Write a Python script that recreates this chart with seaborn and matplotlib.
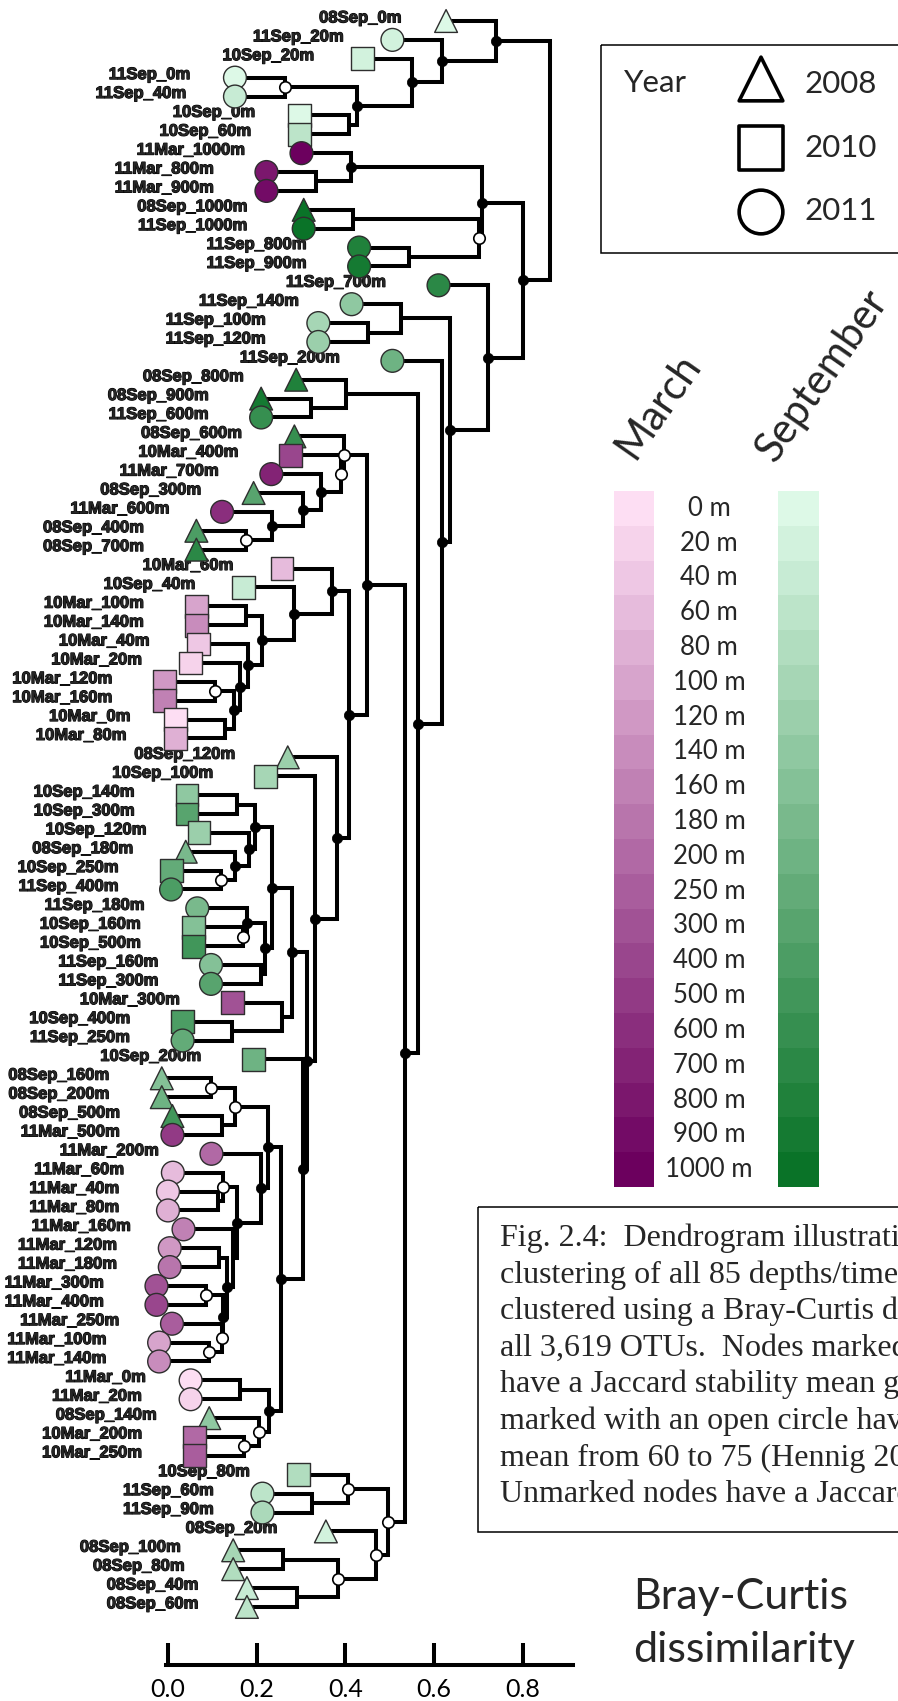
import numpy as np
import pandas as pd
import seaborn as sns
import matplotlib.pyplot as plt
import matplotlib.patheffects as pe
from matplotlib.colors import LinearSegmentedColormap
from matplotlib.patches import Rectangle

# ---- data ----
leaf_labels = [
    "08Sep_0m", "11Sep_20m", "10Sep_20m", "11Sep_0m", "11Sep_40m", "10Sep_0m", "10Sep_60m", "11Mar_1000m", "11Mar_800m", "11Mar_900m",
    "08Sep_1000m", "11Sep_1000m", "11Sep_800m", "11Sep_900m", "11Sep_700m", "11Sep_140m", "11Sep_100m", "11Sep_120m", "11Sep_200m", "08Sep_800m",
    "08Sep_900m", "11Sep_600m", "08Sep_600m", "10Mar_400m", "11Mar_700m", "08Sep_300m", "11Mar_600m", "08Sep_400m", "08Sep_700m", "10Mar_60m",
    "10Sep_40m", "10Mar_100m", "10Mar_140m", "10Mar_40m", "10Mar_20m", "10Mar_120m", "10Mar_160m", "10Mar_0m", "10Mar_80m", "08Sep_120m",
    "10Sep_100m", "10Sep_140m", "10Sep_300m", "10Sep_120m", "08Sep_180m", "10Sep_250m", "11Sep_400m", "11Sep_180m", "10Sep_160m", "10Sep_500m",
    "11Sep_160m", "11Sep_300m", "10Mar_300m", "10Sep_400m", "11Sep_250m", "10Sep_200m", "08Sep_160m", "08Sep_200m", "08Sep_500m", "11Mar_500m",
    "11Mar_200m", "11Mar_60m", "11Mar_40m", "11Mar_80m", "11Mar_160m", "11Mar_120m", "11Mar_180m", "11Mar_300m", "11Mar_400m", "11Mar_250m",
    "11Mar_100m", "11Mar_140m", "11Mar_0m", "11Mar_20m", "08Sep_140m", "10Mar_200m", "10Mar_250m", "10Sep_80m", "11Sep_60m", "11Sep_90m",
    "08Sep_20m", "08Sep_100m", "08Sep_80m", "08Sep_40m", "08Sep_60m",
]

# merges: ids < 85 are leaves, 85 + row is the cluster made in that row
merge_pairs = [
    (3, 4), (5, 6), (85, 86), (2, 87), (1, 88), (0, 89),
    (8, 9), (7, 91), (10, 11), (12, 13), (93, 94), (92, 95),
    (16, 17), (15, 97), (20, 21), (19, 99), (27, 28), (26, 101),
    (25, 102), (24, 103), (23, 104), (22, 105), (31, 32), (35, 36),
    (37, 38), (108, 109), (34, 110), (33, 111), (107, 112), (30, 113),
    (29, 114), (41, 42), (45, 46), (44, 117), (43, 118), (116, 119),
    (48, 49), (47, 121), (50, 51), (122, 123), (120, 124), (53, 54),
    (52, 126), (125, 127), (56, 57), (58, 59), (129, 130), (62, 63),
    (61, 132), (65, 66), (67, 68), (70, 71), (69, 136), (135, 137),
    (134, 138), (64, 139), (133, 140), (60, 141), (131, 142), (72, 73),
    (75, 76), (74, 145), (144, 146), (143, 147), (55, 148), (128, 149),
    (40, 150), (39, 151), (115, 152), (106, 153), (78, 79), (77, 155),
    (81, 82), (83, 84), (157, 158), (80, 159), (156, 160), (154, 161),
    (100, 162), (18, 163), (98, 164), (14, 165), (96, 166), (90, 167),
]
merge_height = [
    0.263, 0.409, 0.426, 0.551, 0.618, 0.739,
    0.334, 0.413, 0.418, 0.543, 0.701, 0.708,
    0.451, 0.526, 0.322, 0.401, 0.176, 0.234,
    0.305, 0.345, 0.389, 0.397, 0.176, 0.105,
    0.128, 0.148, 0.163, 0.180, 0.213, 0.283,
    0.369, 0.155, 0.119, 0.152, 0.182, 0.197,
    0.169, 0.178, 0.209, 0.218, 0.234, 0.145,
    0.257, 0.280, 0.098, 0.122, 0.151, 0.112,
    0.123, 0.116, 0.086, 0.092, 0.121, 0.125,
    0.132, 0.147, 0.155, 0.210, 0.226, 0.163,
    0.172, 0.205, 0.227, 0.255, 0.305, 0.313,
    0.332, 0.382, 0.409, 0.449, 0.325, 0.406,
    0.259, 0.290, 0.383, 0.468, 0.495, 0.534,
    0.564, 0.618, 0.635, 0.722, 0.801, 0.861,
]
# d = stable (black dot), o = open circle, - = unmarked
merge_mark = "".join([
    "o-dddd", "-d--od", "----od", "ddoo-o", "-ddddd", "d-oddd", "od-dd-",
    "-do-o-", "o-oood", "d-ddd-", "oodddd", "dddd-o", "--oood", "ddddd-",
])

depth_levels = [0, 20, 40, 60, 80, 100, 120, 140, 160, 180, 200,
                250, 300, 400, 500, 600, 700, 800, 900, 1000]
year_markers = {2008: "^", 2010: "s", 2011: "o"}
month_colours = {"Mar": ["#fddef3", "#6c005e"], "Sep": ["#ddf9e7", "#0a7328"]}
axis_ticks = [0.0, 0.2, 0.4, 0.6, 0.8]
# caption as it shows in the reference (runs off the right edge)
caption_lines = [
    "Fig. 2.4:  Dendrogram illustrati",
    "clustering of all 85 depths/time",
    "clustered using a Bray-Curtis d",
    "all 3,619 OTUs.  Nodes marked",
    "have a Jaccard stability mean g",
    "marked with an open circle hav",
    "mean from 60 to 75 (Hennig 20",
    "Unmarked nodes have a Jaccard",
]

# ---- layout (pixels of the 898 x 1701 canvas) ----
W, H, DPI = 898, 1701, 100
X0_PX, UNIT_PX = 168.0, 443.5      # where 0.0 sits, pixels per unit
Y0_PX, STEP_PX = 21.0, 18.88       # first leaf, leaf spacing
AXIS_PX = 1665.0
HANG = 0.112
LW = 2.9

sns.set_theme(style="white")
plt.rcParams["font.family"] = ["Lato", "DejaVu Sans"]

fig = plt.figure(figsize=(W / DPI, H / DPI), dpi=DPI)
ax = fig.add_axes([0, 1 - AXIS_PX / H, 1, AXIS_PX / H])
ax.set_xlim(-X0_PX / UNIT_PX, (W - X0_PX) / UNIT_PX)
ax.set_ylim((AXIS_PX - Y0_PX) / STEP_PX, -Y0_PX / STEP_PX)

n = len(leaf_labels)
node_x = np.zeros(n + len(merge_pairs))
node_y = np.zeros(n + len(merge_pairs))
node_y[:n] = np.arange(n)

for i, (a, b) in enumerate(merge_pairs):
    h = merge_height[i]
    for c in (a, b):
        if c < n:
            node_x[c] = h - HANG
    node_x[n + i] = h
    node_y[n + i] = (node_y[a] + node_y[b]) / 2
    ax.plot([node_x[a], h, h, node_x[b]], [node_y[a], node_y[a], node_y[b], node_y[b]],
            color="black", lw=LW, solid_joinstyle="miter", solid_capstyle="butt", zorder=2)

# leaf colours from month + depth
cmaps = {m: LinearSegmentedColormap.from_list(m, c) for m, c in month_colours.items()}
years, colours = [], []
for lab in leaf_labels:
    yr, rest = lab[:2], lab[2:]
    month, depth = rest.split("_")
    depth = int(depth[:-1])
    t = np.interp(depth, depth_levels, np.arange(len(depth_levels))) / (len(depth_levels) - 1)
    years.append(2000 + int(yr))
    colours.append(cmaps[month](t))

leaf_df = pd.DataFrame({"x": node_x[:n], "y": node_y[:n], "label": leaf_labels, "year": years})
sns.scatterplot(data=leaf_df, x="x", y="y", hue="label", palette=dict(zip(leaf_labels, colours)),
                style="year", markers=year_markers, s=270, edgecolor="#2e2e2e", linewidth=1.0,
                legend=False, ax=ax, zorder=4)

# labels sit further left the longer they are
heavy = [pe.withStroke(linewidth=0.8, foreground="black")]
for x, y, lab in zip(leaf_df.x, leaf_df.y, leaf_labels):
    off = (13 + 4 * len(lab)) / UNIT_PX
    ax.text(x - off, y - 0.16, lab, ha="right", va="center", fontsize=12, fontweight="bold",
            family=["Liberation Sans"], zorder=3, path_effects=heavy)

node_df = pd.DataFrame({"x": node_x[n:], "y": node_y[n:], "mark": list(merge_mark)})
sns.scatterplot(data=node_df[node_df.mark == "d"], x="x", y="y", color="black", s=55,
                edgecolor="black", linewidth=0.5, legend=False, ax=ax, zorder=5)
sns.scatterplot(data=node_df[node_df.mark == "o"], x="x", y="y", color="white", s=68,
                edgecolor="black", linewidth=1.2, legend=False, ax=ax, zorder=5)

# axis
ax.set_xticks(axis_ticks)
ax.set_xticklabels([f"{t:.1f}" for t in axis_ticks])
ax.set_yticks([])
ax.tick_params(axis="x", bottom=True, direction="in", length=15.8, width=LW,
               labelsize=18, pad=9, color="black", labelcolor="black")
for s in ["top", "right", "left"]:
    ax.spines[s].set_visible(False)
ax.spines["bottom"].set_bounds(-0.005, 0.913)
ax.spines["bottom"].set_linewidth(LW)
ax.spines["bottom"].set_color("black")
ax.set_xlabel("")
ax.set_ylabel("")
ax.patch.set_alpha(0)

# ---- overlay in pixel units for legend, keys and caption ----
ov = fig.add_axes([0, 0, 1, 1], zorder=-1)
ov.set_xlim(0, W)
ov.set_ylim(H, 0)
ov.axis("off")

ov.add_patch(Rectangle((601, 45), 340, 208, fill=False, lw=1.1, ec="black"))
ov.text(624, 92, "Year", fontsize=22.5, va="baseline")
for (yr, mk), ym, yt in zip(year_markers.items(), [79, 148, 212], [93, 157, 220]):
    ov.scatter([761], [ym], marker=mk, s=990, facecolor="none", edgecolor="black", lw=2.6)
    ov.text(805, yt, str(yr), fontsize=22.5, va="baseline")

ov.text(634, 461, "March", rotation=55, rotation_mode="anchor", ha="left", va="baseline", fontsize=30)
ov.text(775, 464, "September", rotation=55, rotation_mode="anchor", ha="left", va="baseline", fontsize=30)

ck = fig.add_axes([0, 1 - 1187 / H, 1, (1187 - 491) / H])
ck.set_xlim(0, W)
ck.set_ylim(len(depth_levels) - 0.5, -0.5)
ck.axis("off")
rows = np.arange(len(depth_levels))
tt = rows / (len(depth_levels) - 1)
ck.barh(rows, 40, left=614, height=1.0, color=[cmaps["Mar"](v) for v in tt], lw=0)
ck.barh(rows, 41, left=778, height=1.0, color=[cmaps["Sep"](v) for v in tt], lw=0)
for r, d in zip(rows, depth_levels):
    ck.text(709, r, f"{d} m", ha="center", va="center", fontsize=18.5)

ov.add_patch(Rectangle((478, 1207), 500, 325, fill=False, lw=1.1, ec="black"))
for k, line in enumerate(caption_lines):
    ov.text(500, 1246 + 36.6 * k, line, fontsize=23, va="baseline", family=["Liberation Serif"])

ov.text(633, 1609, "Bray-Curtis", fontsize=31, va="baseline")
ov.text(633, 1662, "dissimilarity", fontsize=31, va="baseline")

fig.savefig("out.png", dpi=DPI)
